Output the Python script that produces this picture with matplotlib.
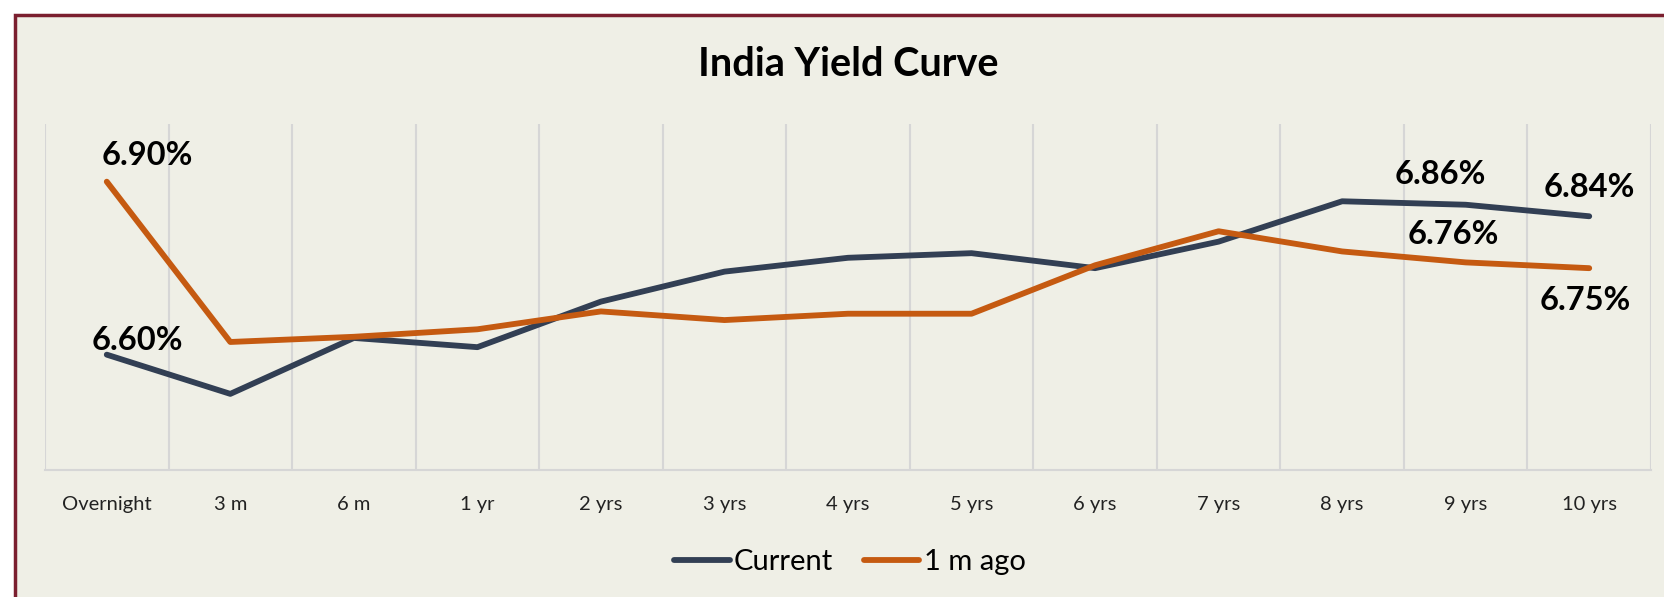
import matplotlib
matplotlib.use("Agg")
import matplotlib.pyplot as plt
from matplotlib.patches import Rectangle

tenors = ["Overnight", "3 m", "6 m", "1 yr", "2 yrs", "3 yrs", "4 yrs", "5 yrs",
          "6 yrs", "7 yrs", "8 yrs", "9 yrs", "10 yrs"]
current = [6.60, 6.532, 6.629, 6.613, 6.692, 6.744, 6.768, 6.776, 6.750, 6.796, 6.866, 6.86, 6.84]
month_ago = [6.90, 6.622, 6.631, 6.644, 6.675, 6.660, 6.671, 6.671, 6.755, 6.814, 6.779, 6.76, 6.75]

# labelled points: (index, text)
labels_current = [(0, "6.60%"), (11, "6.86%"), (12, "6.84%")]
labels_month = [(0, "6.90%"), (11, "6.76%"), (12, "6.75%")]

BG = "#efefe6"
NAVY = "#323f54"
ORANGE = "#c55a11"
GRID = "#d6d6d6"
BORDER = "#7b1f2f"
FONT = "Lato"

plt.rcParams["font.family"] = [FONT, "DejaVu Sans"]

W, H = 1664, 597
fig = plt.figure(figsize=(W / 100, H / 100), dpi=100)
fig.patch.set_facecolor("white")
fig.patches.append(Rectangle((15 / W, -0.05), 1.2, 1 - 15 / H + 0.05,
                             transform=fig.transFigure, facecolor=BG,
                             edgecolor=BORDER, linewidth=2.5, zorder=0))

ax = fig.add_axes([45 / W, 1 - 470 / H, (1651 - 45) / W, (470 - 124) / H])
ax.set_zorder(2)
ax.patch.set_alpha(0)
x = list(range(len(tenors)))
for b in [i - 0.5 for i in range(len(tenors) + 1)]:
    ax.axvline(b, color=GRID, lw=1.5, zorder=1)

ax.plot(x, current, color=NAVY, lw=4.2, solid_capstyle="round", zorder=3, label="Current")
ax.plot(x, month_ago, color=ORANGE, lw=4.2, solid_capstyle="round", zorder=3, label="1 m ago")

ax.set_xlim(-0.5, len(tenors) - 0.5)
ax.set_ylim(6.40, 7.00)
ax.set_xticks(x)
ax.set_xticklabels(tenors, fontsize=14.5, color="#222222")
ax.tick_params(axis="x", length=0, pad=19)
ax.set_yticks([])
for s in ["top", "left", "right"]:
    ax.spines[s].set_visible(False)
ax.spines["bottom"].set_color(GRID)
ax.spines["bottom"].set_linewidth(1.5)

offsets_current = {0: (22, 10), 11: (-18, 22), 12: (0, 21)}
offsets_month = {0: (29, 19), 11: (-9, 20), 12: (-3, -23)}
for i, t in labels_current:
    ax.annotate(t, (x[i], current[i]), xytext=offsets_current[i], textcoords="offset points",
                ha="center", va="center", fontsize=23.5, fontweight="bold", color="black", zorder=5)
for i, t in labels_month:
    ax.annotate(t, (x[i], month_ago[i]), xytext=offsets_month[i], textcoords="offset points",
                ha="center", va="center", fontsize=23.5, fontweight="bold", color="black", zorder=5)

fig.text(848 / W, 1 - 64 / H, "India Yield Curve", ha="center", va="center",
         fontsize=28.5, fontweight="bold", color="black")

fig.legend(loc="center", bbox_to_anchor=(850 / W, 1 - 562 / H), ncol=2, frameon=False,
           fontsize=21, handlelength=1.9, handletextpad=0.15, columnspacing=1.05)

fig.savefig("out.png", dpi=100, facecolor=fig.get_facecolor())
